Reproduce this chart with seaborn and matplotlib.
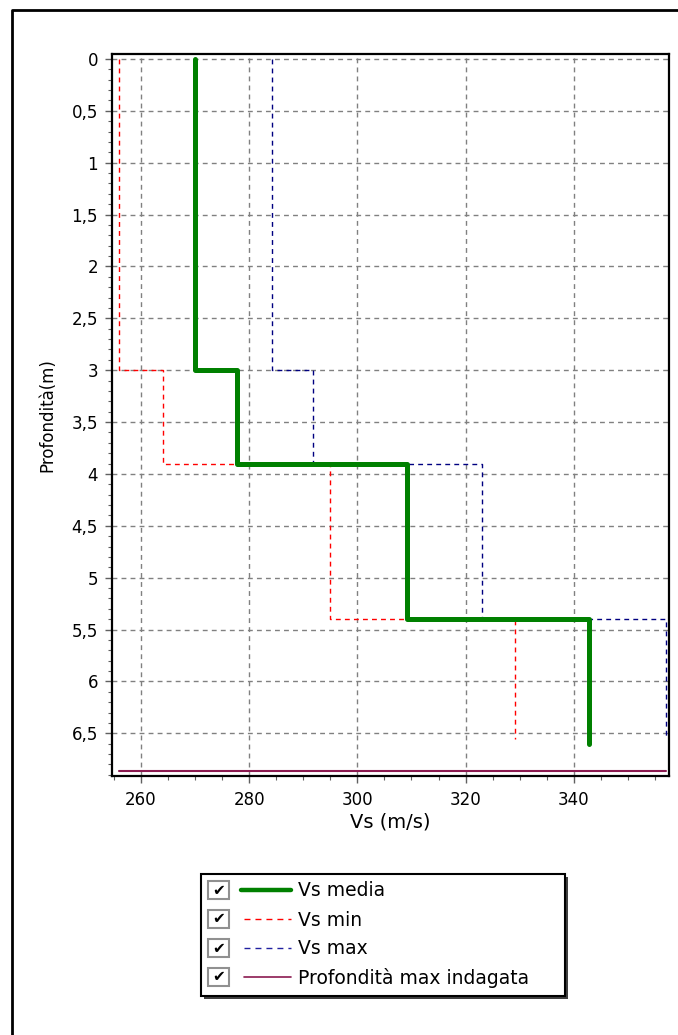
import matplotlib
matplotlib.use("Agg")
import matplotlib.pyplot as plt
import seaborn as sns
import pandas as pd
from matplotlib.lines import Line2D
from matplotlib.patches import Rectangle
from matplotlib.ticker import MultipleLocator, FuncFormatter

# layer tops (m) and velocities (m/s)
layer_tops = [0.0, 3.0, 3.9, 5.4]
bottom_media = 6.6
bottom_minmax = 6.55
vs_media = [270.0, 277.8, 309.2, 342.9]
vs_min = [255.9, 264.1, 294.9, 329.1]
vs_max = [284.2, 291.8, 323.0, 357.1]
depth_max_indagata = 6.86

legend_labels = ["Vs media", "Vs min", "Vs max", "Profondità max indagata"]
x_ticks = [260, 280, 300, 320, 340]


def step_profile(vs, tops, bottom):
    xs, ys = [], []
    bounds = tops[1:] + [bottom]
    for v, t, b in zip(vs, tops, bounds):
        xs += [v, v]
        ys += [t, b]
    return pd.DataFrame({"vs": xs, "depth": ys})


sns.set_style("white")
plt.rcParams['font.family'] = ['DejaVu Sans']
plt.rcParams['text.color'] = 'black'
plt.rcParams['axes.labelcolor'] = 'black'
plt.rcParams['xtick.labelcolor'] = 'black'
plt.rcParams['ytick.labelcolor'] = 'black'

W, H = 678, 1035
fig = plt.figure(figsize=(W / 100, H / 100), dpi=100)


def fx(px):
    return px / W


def fy(py):
    return 1 - py / H


ax = fig.add_axes([fx(112), fy(776), fx(669) - fx(112), fy(54) - fy(776)])

df_min = step_profile(vs_min, layer_tops, bottom_minmax)
df_max = step_profile(vs_max, layer_tops, bottom_minmax)
df_med = step_profile(vs_media, layer_tops, bottom_media)

dash = (0, (3.5, 3))
sns.lineplot(data=df_min, x="vs", y="depth", sort=False, estimator=None, ax=ax,
             color="#ff0000", lw=1.0, linestyle=dash, zorder=3)
sns.lineplot(data=df_max, x="vs", y="depth", sort=False, estimator=None, ax=ax,
             color="#000080", lw=1.0, linestyle=dash, zorder=3)
sns.lineplot(data=df_med, x="vs", y="depth", sort=False, estimator=None, ax=ax,
             color="#008000", lw=3.6, zorder=4)
ax.plot([min(vs_min), max(vs_max)], [depth_max_indagata, depth_max_indagata],
        color="#8b1a50", lw=1.5, zorder=4)

ax.set_xlim(254.64, 357.6)
ax.set_ylim(6.911, -0.048)
ax.set_xticks(x_ticks)
ax.xaxis.set_minor_locator(MultipleLocator(5))
ax.yaxis.set_major_locator(MultipleLocator(0.5))
ax.yaxis.set_minor_locator(MultipleLocator(0.1))
ax.yaxis.set_major_formatter(FuncFormatter(lambda v, p: f"{v:g}".replace(".", ",")))

ax.grid(True, which="major", color="#808080", lw=1.0, linestyle=(0, (3.5, 3)))
ax.tick_params(axis="both", which="major", length=5, width=1, color="#606060",
               labelsize=12, direction="out", labelcolor="black")
ax.tick_params(axis="x", which="major", pad=6)
ax.tick_params(axis="y", which="major", pad=5)
ax.tick_params(axis="both", which="minor", length=3, width=0.8, color="#606060",
               direction="out")
ax.tick_params(bottom=True, left=True, which="both")
for s in ax.spines.values():
    s.set_color("black")
    s.set_linewidth(1.6)

ax.set_xlabel("Vs (m/s)", fontsize=14, labelpad=2, color="black")
ax.set_ylabel("Profondità(m)", fontsize=12, labelpad=11, color="black")

# outer frame (left and top borders)
fig.add_artist(Line2D([fx(12), fx(12), 1.0], [0.0, fy(10), fy(10)],
                      transform=fig.transFigure, color="black", lw=2))

# legend box with checkboxes
lx0, lx1, ly0, ly1 = 201, 565, 874, 996
fig.add_artist(Rectangle((fx(lx0 + 3), fy(ly1 + 3)), fx(lx1 - lx0), fy(ly0) - fy(ly1),
                         transform=fig.transFigure, facecolor="#404040",
                         edgecolor="none", zorder=1))
fig.add_artist(Rectangle((fx(lx0), fy(ly1)), fx(lx1 - lx0), fy(ly0) - fy(ly1),
                         transform=fig.transFigure, facecolor="white",
                         edgecolor="black", lw=1.5, zorder=2))

row_y = [890, 919, 948, 977]
handle_styles = [
    dict(color="#008000", lw=3.2, linestyle="-"),
    dict(color="#ff0000", lw=1.0, linestyle=(0, (4.3, 3.6))),
    dict(color="#2020a0", lw=1.0, linestyle=(0, (4.3, 3.6))),
    dict(color="#8b1a50", lw=1.2, linestyle="-"),
]
for yy, label, st in zip(row_y, legend_labels, handle_styles):
    fig.add_artist(Rectangle((fx(208), fy(yy + 9)), fx(21), fy(yy - 9) - fy(yy + 9),
                             transform=fig.transFigure, facecolor="white",
                             edgecolor="#909090", lw=1.5, zorder=3))
    fig.text(fx(218.5), fy(yy), "✔", fontsize=11, family="DejaVu Sans",
             ha="center", va="center", color="black", zorder=4)
    x_start = 241 if label == "Vs media" else 244
    fig.add_artist(Line2D([fx(x_start), fx(291)], [fy(yy), fy(yy)],
                          transform=fig.transFigure, zorder=4, **st))
    fig.text(fx(298), fy(yy + 1), label, fontsize=13.5, ha="left", va="center",
             color="black", zorder=4)

fig.savefig("out.png", dpi=100, facecolor="white")
